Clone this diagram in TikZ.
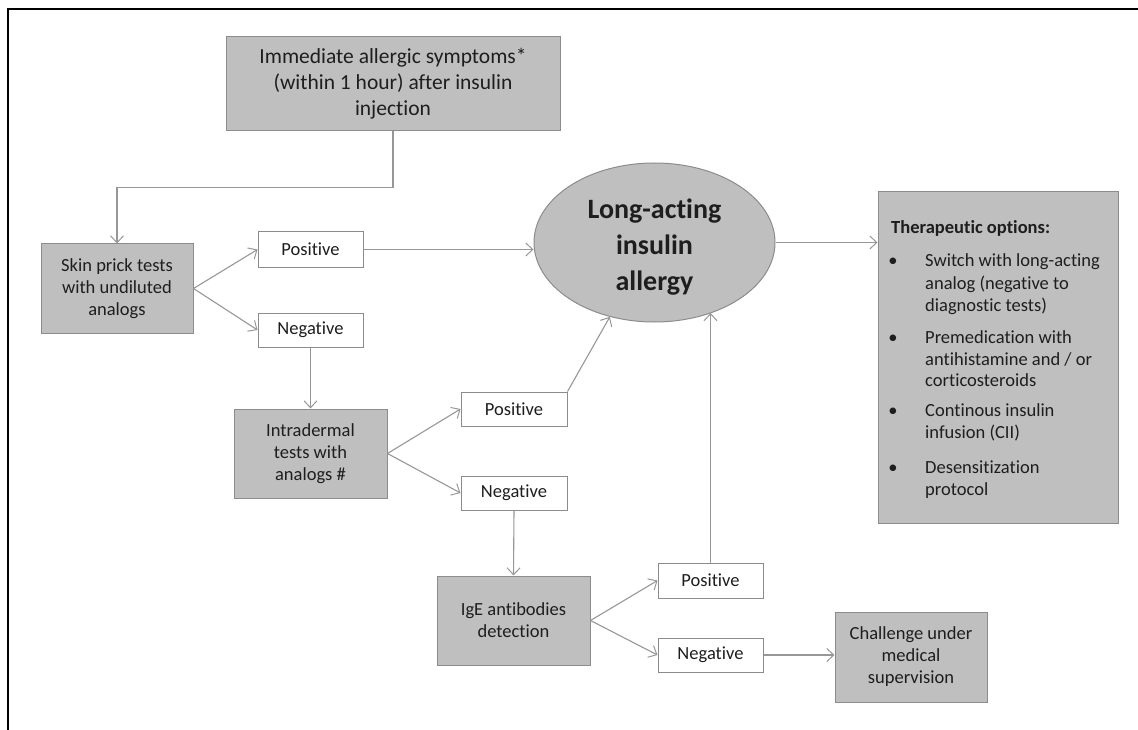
\documentclass[tikz,border=0pt]{standalone}
\usepackage{fontspec}
\setmainfont{Carlito}[Ligatures={NoCommon}]
\usetikzlibrary{arrows.meta,shapes.geometric}
\definecolor{gfill}{HTML}{BFBFBF}
\definecolor{gborder}{HTML}{8C8C8C}
\definecolor{arrowc}{HTML}{979797}
\definecolor{txt}{HTML}{1E1E1E}
\tikzset{
  base/.style={draw=gborder, line width=1pt, inner sep=0pt, align=center, text=txt,
    font=\fontsize{18.5}{22}\selectfont},
  gbox/.style={base, fill=gfill},
  wbox/.style={base, fill=white},
  conn/.style={draw=arrowc, line width=1.1pt, -{Straight Barb[length=7pt,width=13pt,line width=1pt]}},
  ttext/.style={inner sep=0pt, text=txt, font=\fontsize{18.5}{22}\selectfont, align=left},
}
\begin{document}
\begin{tikzpicture}[x=1pt,y=-1pt]
\useasboundingbox (0,0) rectangle (1138,730);
\draw[line width=1.5pt, black] (8,730) -- (8,9) -- (1138,9);

\node[gbox, minimum width=334, minimum height=94, font=\fontsize{21.5}{26}\selectfont] (top) at (393,84)
  {Immediate allergic symptoms*\\(within 1 hour) after insulin\\injection};
\node[gbox, minimum width=152, minimum height=89] (skin) at (117,288.5)
  {Skin prick tests\\with undiluted\\analogs};
\node[wbox, minimum width=105, minimum height=35] (pos1) at (310.5,249.5) {Positive};
\node[wbox, minimum width=105, minimum height=34] (neg1) at (310.5,330) {Negative};
\node[gbox, minimum width=153, minimum height=89] (intra) at (310.5,453.5)
  {Intradermal\\tests with\\analogs \#};
\node[wbox, minimum width=106, minimum height=34] (pos2) at (514,409) {Positive};
\node[wbox, minimum width=106, minimum height=34] (neg2) at (514,493) {Negative};
\node[gbox, minimum width=153, minimum height=89] (ige) at (513.5,620.5)
  {IgE antibodies\\detection};
\node[wbox, minimum width=105, minimum height=35] (pos3) at (710.5,580.5) {Positive};
\node[wbox, minimum width=105, minimum height=34] (neg3) at (710.5,655) {Negative};
\node[gbox, minimum width=152, minimum height=90] (chal) at (911,657)
  {Challenge under\\medical\\supervision};
\node[gbox, ellipse, minimum width=241, minimum height=159,
  label={[inner sep=0pt, align=center, text=txt, yshift=-5pt,
    font=\fontsize{28}{36}\selectfont\bfseries]center:{Long-acting\\insulin\\allergy}}] (ell) at (654.5,242.5) {};
\node[gbox, minimum width=240, minimum height=331] (ther) at (998,357.5) {};

\node[ttext, anchor=base west, font=\fontsize{18.5}{22}\selectfont\bfseries] (tt) at (891,234) {Therapeutic options:};
\node[ttext, anchor=base] (b1) at (893,266) {•};
\node[ttext, anchor=base] (b2) at (893,343) {•};
\node[ttext, anchor=base] (b3) at (893,416) {•};
\node[ttext, anchor=base] (b4) at (893,473) {•};
\node[ttext, anchor=base west] (t1a) at (925,266) {Switch with long-acting};
\node[ttext, anchor=base west] (t1b) at (925,289) {analog (negative to};
\node[ttext, anchor=base west] (t1c) at (925,311) {diagnostic tests)};
\node[ttext, anchor=base west] (t2a) at (925,343) {Premedication with};
\node[ttext, anchor=base west] (t2b) at (925,365) {antihistamine and / or};
\node[ttext, anchor=base west] (t2c) at (925,386) {corticosteroids};
\node[ttext, anchor=base west] (t3a) at (925,416) {Continous insulin};
\node[ttext, anchor=base west] (t3b) at (925,438) {infusion (CII)};
\node[ttext, anchor=base west] (t4a) at (925,473) {Desensitization};
\node[ttext, anchor=base west] (t4b) at (925,495) {protocol};

\draw[conn] (top.south) -- ++(0,56) -| (skin.north);
\draw[conn] (skin.east) -- (pos1.west);
\draw[conn] (skin.east) -- (neg1.west);
\draw[conn] (pos1.east) -- (pos1.east -| ell.west);
\draw[conn] (neg1.south) -- (intra.north);
\draw[conn] (intra.east) -- (pos2.west);
\draw[conn] (intra.east) -- (neg2.west);
\draw[conn] (pos2.north east) -- (ell.239);
\draw[conn] (neg2.south) -- (ige.north);
\draw[conn] (ige.east) -- (pos3.west);
\draw[conn] (ige.east) -- (neg3.west);
\draw[conn] (pos3.north) -- (pos3.north |- ell.309);
\draw[conn] (neg3.east) -- (chal.west |- neg3.east);
\draw[conn] (ell.east) -- (ell.east -| ther.west);
\end{tikzpicture}
\end{document}
